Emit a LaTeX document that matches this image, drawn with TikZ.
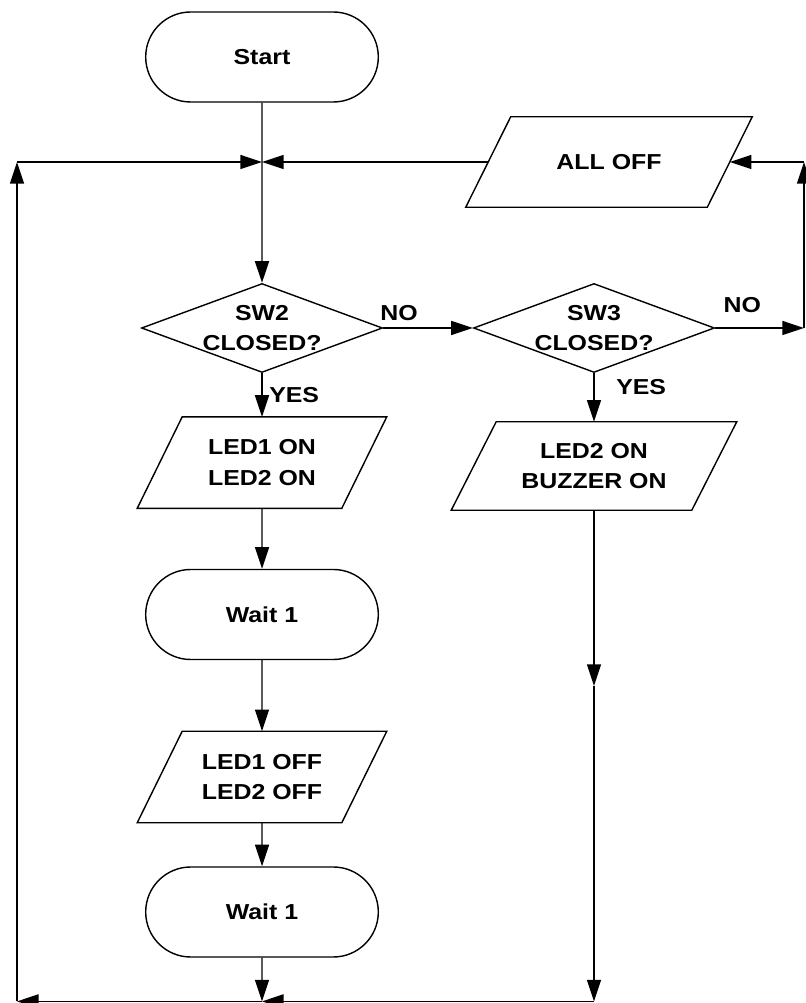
\documentclass[tikz,border=0pt]{standalone}
\usepackage{fontspec}
\usetikzlibrary{shapes.geometric,shapes.misc,arrows.meta}
\newfontfamily\flowfam{Liberation Sans Bold}[FakeStretch=1.15]
\newcommand\flowfont{\flowfam\fontsize{15.4pt}{21.5pt}\selectfont}
\tikzset{
  term/.style={rounded rectangle, draw, line width=1pt, minimum width=6.05cm, minimum height=2.25cm, font=\flowfont},
  io/.style={rectangle, align=center, font=\flowfont},
  decision/.style={diamond, draw, line width=1pt, minimum width=6.025cm, minimum height=2.225cm, inner sep=0pt},
  txt/.style={align=center, font=\flowfont, inner sep=0pt},
  flow/.style={line width=1pt, -{Triangle[length=0.54cm, width=0.35cm]}}
}
\begin{document}
\begin{tikzpicture}
                    \useasboundingbox (0,0) rectangle (20.15,25.075);
                    \node[term] (start) at (6.55,23.65) {Start};
                    \node[io, minimum width=6.025cm, minimum height=2.25cm] (alloff) at (15.225,21.025) {ALL OFF};
                    \node[decision] (sw2) at (6.55,16.875) {};
                    \node[txt] (sw2t) at (sw2) {SW2\\CLOSED?};
                    \node[decision] (sw3) at (14.85,16.875) {};
                    \node[txt] (sw3t) at (sw3) {SW3\\CLOSED?};
                    \node[io, minimum width=5.1cm, minimum height=2.275cm] (ledon) at (6.55,13.51) {LED1 ON\\LED2 ON};
                    \node[io, minimum width=6cm, minimum height=2.2cm] (ledbuz) at (14.85,13.425) {LED2 ON\\BUZZER ON};
                    \node[term] (waita) at (6.55,9.7125) {Wait 1};
                    \node[io, minimum width=5.1cm, minimum height=2.275cm] (ledoff) at (6.55,5.65) {LED1 OFF\\LED2 OFF};
                    \node[term] (waitb) at (6.55,2.275) {Wait 1};
                    \foreach \n in {alloff,ledon,ledbuz,ledoff}
                        \draw[line width=1pt] ([xshift=.5625cm]\n.north west) -- ([xshift=.5625cm]\n.north east)
                            -- ([xshift=-.5625cm]\n.south east) -- ([xshift=-.5625cm]\n.south west) -- cycle;
                    \node[txt, anchor=south west] (no2) at ([xshift=-0.075cm, yshift=0.175cm]sw2.east) {NO};
                    \node[txt, anchor=south] (no3) at ([xshift=0.675cm, yshift=0.375cm]sw3.east) {NO};
                    \node[txt, anchor=north west] (yes2) at ([xshift=0.175cm, yshift=-0.35cm]sw2.south) {YES};
                    \node[txt, anchor=north west] (yes3) at ([xshift=0.55cm, yshift=-0.15cm]sw3.south) {YES};
                    \coordinate (jn) at (6.55,21.025);
                    \coordinate (ne) at (20.1,16.875);
                    \coordinate (nt) at (20.1,21.025);
                    \coordinate (rmid) at (14.85,7.925);
                    \coordinate (rb) at (14.85,0.04);
                    \coordinate (bm) at (6.55,0.04);
                    \coordinate (lb) at (0.425,0.04);
                    \coordinate (lt) at (0.425,21.025);
                    \draw[flow] (start) -- (sw2);
                    \draw[flow] (alloff) -- (jn);
                    \draw[flow] (lt) -- (jn);
                    \draw[flow] (sw2) -- (sw3);
                    \draw[flow] (sw3) -- (ne);
                    \draw[flow] (ne) -- (nt);
                    \draw[flow] (nt) -- (alloff);
                    \draw[flow] (sw2) -- (ledon);
                    \draw[flow] (sw3) -- (ledbuz);
                    \draw[flow] (ledon) -- (waita);
                    \draw[flow] (waita) -- (ledoff);
                    \draw[flow] (ledoff) -- (waitb);
                    \draw[flow] (waitb) -- (bm);
                    \draw[flow] (ledbuz) -- (rmid);
                    \draw[flow] (rmid) -- (rb);
                    \draw[flow] (rb) -- (bm);
                    \draw[flow] (bm) -- (lb);
                    \draw[flow] (lb) -- (lt);
                \end{tikzpicture}
\end{document}
